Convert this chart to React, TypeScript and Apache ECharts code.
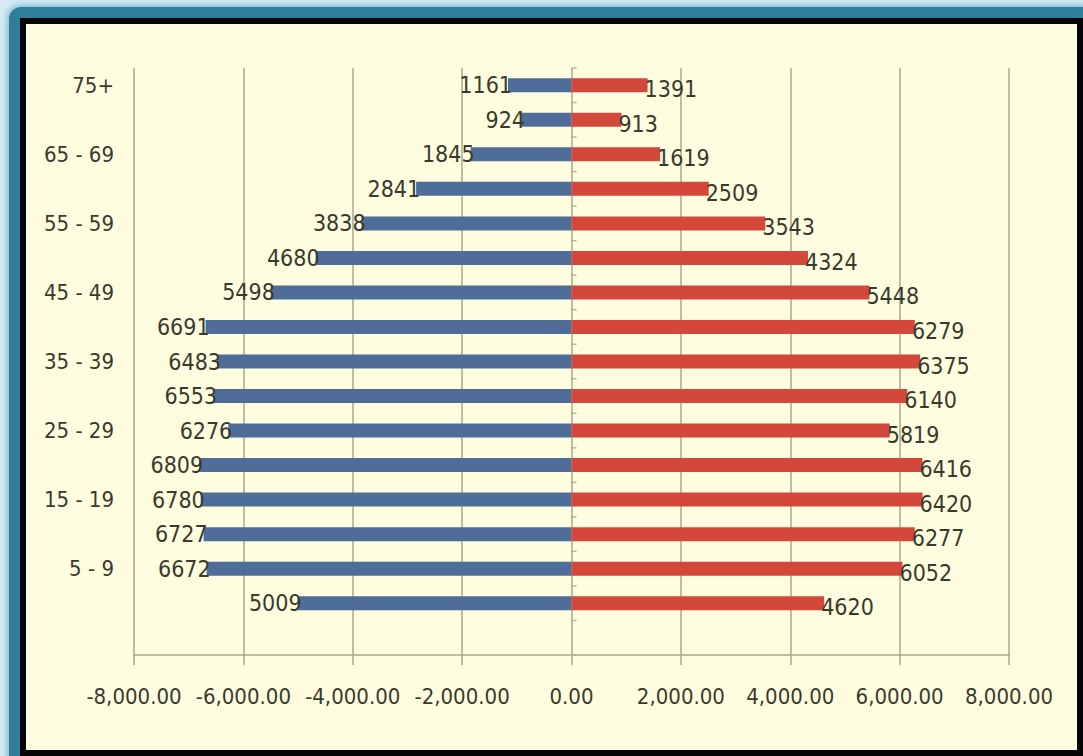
import React, { useEffect, useRef } from "react";
import * as echarts from "echarts";

// Age groups from the bottom of the pyramid up; the first slot is an empty row.
const ageGroups = [
  "", "0 - 4", "5 - 9", "10 - 14", "15 - 19", "20 - 24", "25 - 29", "30 - 34", "35 - 39",
  "40 - 44", "45 - 49", "50 - 54", "55 - 59", "60 - 64", "65 - 69", "70 - 74", "75+",
];

// Left (blue) side, same order as ageGroups
const leftValues = [
  null, 5009, 6672, 6727, 6780, 6809, 6276, 6553, 6483,
  6691, 5498, 4680, 3838, 2841, 1845, 924, 1161,
];

// Right (red) side, same order as ageGroups
const rightValues = [
  null, 4620, 6052, 6277, 6420, 6416, 5819, 6140, 6375,
  6279, 5448, 4324, 3543, 2509, 1619, 913, 1391,
];

const xTicks = { min: -8000, max: 8000, step: 2000 };

const FONT = "'Liberation Sans Narrow', 'DejaVu Sans Condensed', 'Noto Sans', sans-serif";
const TEXT = "#3a3a2c";
const GRIDLINE = "#a9a88f";

export default function App() {
  const ref = useRef<HTMLDivElement>(null);

  useEffect(() => {
    if (!ref.current) return;
    const chart = echarts.init(ref.current, null, { renderer: "svg" });
    const fmt = (v: number) =>
      v.toLocaleString("en-US", { minimumFractionDigits: 2, maximumFractionDigits: 2 });

    // small tick marks on the centre line, one at every category boundary
    const centreTicks = ageGroups.map((_, i) => [0, i]).concat([[0, ageGroups.length]]);

    chart.setOption({
      animation: false,
      backgroundColor: "transparent",
      grid: { left: 134, right: 74, top: 68, bottom: 101, containLabel: false },
      xAxis: {
        type: "value",
        min: xTicks.min,
        max: xTicks.max,
        interval: xTicks.step,
        axisLine: { show: true, lineStyle: { color: GRIDLINE, width: 1.5 } },
        axisTick: { show: true, length: 10, lineStyle: { color: GRIDLINE, width: 1.5 } },
        splitLine: { show: true, lineStyle: { color: GRIDLINE, width: 1.5 } },
        axisLabel: {
          formatter: (v: number) => fmt(v),
          color: TEXT,
          fontFamily: FONT,
          fontSize: 22,
          margin: 30,
        },
      },
      yAxis: [
        {
          type: "category",
          data: ageGroups,
          axisLine: { show: false },
          axisTick: { show: false },
          axisLabel: {
            interval: 1,
            color: TEXT,
            fontFamily: FONT,
            fontSize: 22,
            margin: 20,
          },
        },
        {
          type: "value",
          min: 0,
          max: ageGroups.length,
          show: false,
        },
      ],
      series: [
        {
          type: "bar",
          yAxisIndex: 0,
          data: leftValues.map((v) => (v == null ? null : -v)),
          barWidth: 14,
          barGap: "-100%",
          itemStyle: { color: "#4f6d99" },
          label: {
            show: true,
            position: "left",
            distance: -4,
            formatter: (p: any) => String(Math.abs(p.value)),
            color: TEXT,
            fontFamily: FONT,
            fontSize: 23,
          },
          z: 3,
        },
        {
          type: "bar",
          yAxisIndex: 0,
          data: rightValues,
          barWidth: 14,
          barGap: "-100%",
          itemStyle: { color: "#d4483b" },
          label: {
            show: true,
            position: "right",
            distance: -3,
            offset: [0, 4],
            color: TEXT,
            fontFamily: FONT,
            fontSize: 23,
          },
          z: 3,
        },
        {
          type: "scatter",
          yAxisIndex: 1,
          data: centreTicks,
          symbol: "rect",
          symbolSize: [5, 1.5],
          symbolOffset: [2.5, 0],
          itemStyle: { color: GRIDLINE },
          silent: true,
          z: 2,
        },
      ],
    });
    return () => chart.dispose();
  }, []);

  return (
    <div
      style={{
        position: "fixed",
        left: 0,
        top: 0,
        width: 1083,
        height: 756,
        background: "#d6ecf4",
        overflow: "hidden",
      }}
    >
      <div
        style={{
          position: "absolute",
          left: 9,
          top: 7,
          width: 1100,
          height: 780,
          borderRadius: 12,
          background: "#2f7f9a",
          boxShadow: "0 0 6px 2px #7fbcd2",
        }}
      />
      <div
        style={{
          position: "absolute",
          left: 20,
          top: 18,
          width: 1063,
          height: 738,
          boxSizing: "border-box",
          border: "6px solid #050505",
          background: "#fffde0",
        }}
      />
      <div ref={ref} style={{ position: "absolute", left: 0, top: 0, width: 1083, height: 756 }} />
    </div>
  );
}
